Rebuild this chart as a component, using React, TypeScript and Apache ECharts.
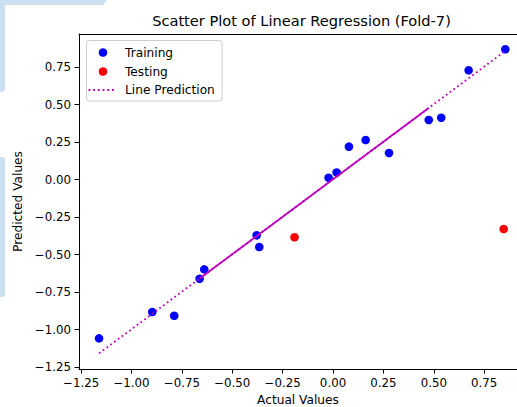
import React, { useEffect, useRef } from "react";
import * as echarts from "echarts";

const trainX = [-1.161, -0.897, -0.788, -0.662, -0.639, -0.379, -0.366, -0.022, 0.018, 0.079, 0.162, 0.278, 0.475, 0.537, 0.673, 0.855];
const trainY = [-1.059, -0.883, -0.908, -0.661, -0.599, -0.372, -0.45, 0.012, 0.047, 0.219, 0.263, 0.177, 0.397, 0.412, 0.728, 0.868];
const testX = [-0.191, 0.847];
const testY = [-0.385, -0.33];
const lineX = [-1.161, 0.855];
const lineY = [-1.159, 0.857];
const denseX = [-0.662, 0.475];
const denseY = [-0.66, 0.477];
const xTicks = [-1.25, -1.0, -0.75, -0.5, -0.25, 0.0, 0.25, 0.5, 0.75];
const yTicks = [-1.25, -1.0, -0.75, -0.5, -0.25, 0.0, 0.25, 0.5, 0.75];
const legendNames = ["Training", "Testing", "Line Prediction"];

const FONT = "DejaVu Sans";
const BLUE = "#0000ff";
const RED = "#ff0000";
const MAG = "#bf00bf";
const DECO = "#cde0f1";

const fmt = (v: number) => (v < 0 ? "\u2212" : "") + Math.abs(v).toFixed(2);
const zip = (a: number[], b: number[]) => a.map((x, i) => [x, b[i]]);

export default function App() {
  const ref = useRef<HTMLDivElement>(null);
  useEffect(() => {
    if (!ref.current) return;
    const chart = echarts.init(ref.current, undefined, { renderer: "svg" });
    const xMin = -1.2605, xMax = 0.913, yMin = -1.263, yMax = 0.97;
    const axisCommon = {
      axisLine: { show: true, onZero: false, lineStyle: { color: "#000", width: 1 } },
      splitLine: { show: false },
    };
    chart.setOption({
      animation: false,
      backgroundColor: "#fff",
      title: {
        text: "Scatter Plot of Linear Regression (Fold-7)",
        left: 301.5,
        top: 13,
        textAlign: "center",
        padding: 0,
        textStyle: { fontFamily: FONT, fontSize: 14.6, fontWeight: "normal", color: "#000" },
      },
      grid: { left: 79, top: 34, right: 0, bottom: 38, containLabel: false, outerBoundsMode: "none" },
      xAxis: [
        {
          type: "value",
          min: xMin,
          max: xMax,
          ...axisCommon,
          name: "Actual Values",
          nameLocation: "middle",
          nameGap: 24,
          nameTextStyle: { fontFamily: FONT, fontSize: 12.2, color: "#000" },
          axisTick: { show: true, length: 4.5, customValues: xTicks, lineStyle: { color: "#000", width: 1 } },
          axisLabel: { show: true, margin: 8, customValues: xTicks, formatter: fmt, fontFamily: FONT, fontSize: 11.8, color: "#000" },
        },
        {
          type: "value",
          position: "top",
          min: xMin,
          max: xMax,
          ...axisCommon,
          axisTick: { show: false },
          axisLabel: { show: false },
        },
      ],
      yAxis: {
        type: "value",
        min: yMin,
        max: yMax,
        ...axisCommon,
        name: "Predicted Values",
        nameLocation: "middle",
        nameGap: 52,
        nameTextStyle: { fontFamily: FONT, fontSize: 12.2, color: "#000" },
        axisTick: { show: true, length: 4.5, customValues: yTicks, lineStyle: { color: "#000", width: 1 } },
        axisLabel: { show: true, margin: 8, customValues: yTicks, formatter: fmt, fontFamily: FONT, fontSize: 11.8, color: "#000" },
      },
      series: [
        {
          name: legendNames[0],
          type: "scatter",
          data: zip(trainX, trainY),
          symbolSize: 8.6,
          itemStyle: { color: BLUE, opacity: 1 },
          z: 2,
        },
        {
          name: legendNames[1],
          type: "scatter",
          data: zip(testX, testY),
          symbolSize: 8.6,
          itemStyle: { color: RED, opacity: 1 },
          z: 2,
        },
        {
          name: legendNames[2],
          type: "line",
          data: zip(lineX, lineY),
          symbol: "none",
          lineStyle: { color: MAG, width: 1.8, type: [1.8, 2.9] },
          z: 3,
        },
        {
          name: legendNames[2],
          type: "line",
          data: zip(denseX, denseY),
          symbol: "none",
          lineStyle: { color: MAG, width: 1.8, type: "solid" },
          z: 3,
        },
      ],
      graphic: [
        {
          type: "polygon",
          z: 0,
          shape: { points: [[0, 0], [107, 0], [103, 5], [5, 5], [5, 89], [4, 91], [2, 92], [0, 92]] },
          style: { fill: DECO },
        },
        {
          type: "rect",
          z: 0,
          shape: { x: -5, y: 157, width: 10, height: 140, r: 3 },
          style: { fill: DECO },
        },
        {
          type: "group",
          z: 100,
          children: [
            {
              type: "rect",
              shape: { x: 86.5, y: 40.5, width: 135.5, height: 60.5, r: 3 },
              style: { fill: "rgba(255,255,255,0.8)", stroke: "#cccccc", lineWidth: 1 },
            },
            { type: "circle", shape: { cx: 103, cy: 52.5, r: 4.3 }, style: { fill: BLUE } },
            { type: "circle", shape: { cx: 103, cy: 71.5, r: 4.3 }, style: { fill: RED } },
            {
              type: "line",
              shape: { x1: 88.5, y1: 90, x2: 114, y2: 90 },
              style: { stroke: MAG, lineWidth: 1.8, lineDash: [1.8, 2.9] },
            },
            ...legendNames.map((t, i) => ({
              type: "text",
              x: 125,
              y: [52.5, 71.5, 90][i],
              style: { text: t, font: `12.2px "${FONT}"`, fill: "#000", verticalAlign: "middle", align: "left" },
            })),
          ],
        },
      ],
    });
    return () => chart.dispose();
  }, []);
  return <div ref={ref} style={{ position: "fixed", left: 0, top: 0, width: 517, height: 407 }} />;
}
